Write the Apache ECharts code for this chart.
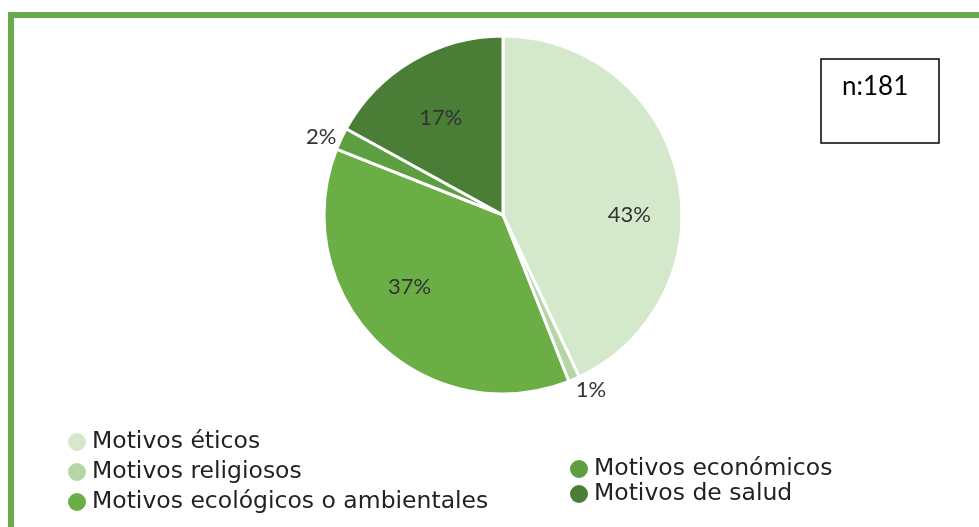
<!DOCTYPE html>
<html>
<head>
<meta charset="utf-8">
<script src="https://cdn.jsdelivr.net/npm/echarts@6/dist/echarts.min.js"></script>
<style>
  html, body { margin: 0; padding: 0; background: #ffffff; }
  #chart { width: 979px; height: 527px; }
</style>
</head>
<body>
<div id="chart"></div>
<script>
// Motivos declarados (n = 181), porcentajes
const categories = [
  'Motivos éticos',
  'Motivos religiosos',
  'Motivos ecológicos o ambientales',
  'Motivos económicos',
  'Motivos de salud'
];
const percentages = [43, 1, 37, 2, 17];
const sampleLabel = 'n:181';

const sliceColors = ['#d4e8cc', '#b3d6a4', '#6aae45', '#5d9e41', '#4a7e36'];
const labelShift = [[36, 20], [0, 7], [-28, 6], [-1, 0], [-15, -17]];
const smallSlice = v => v < 5;
const legendFont = '"DejaVu Sans", "Liberation Sans", Arial, sans-serif';
const labelFont = 'Lato, "Open Sans", sans-serif';

const chart = echarts.init(document.getElementById('chart'), null, { renderer: 'canvas' });

const pieData = categories.map((name, i) => ({
  name: name,
  value: percentages[i],
  itemStyle: { color: sliceColors[i] },
  label: smallSlice(percentages[i])
    ? { position: 'outside', distanceToLabelLine: 0 }
    : { position: 'inside' }
}));

const legendText = { fontFamily: legendFont, fontSize: 23.5, color: '#222222', padding: [0, 0, 0, 0] };

chart.setOption({
  backgroundColor: '#ffffff',
  animation: false,
  graphic: [
    {
      type: 'rect',
      shape: { x: 11, y: 15, width: 990, height: 540 },
      style: { fill: 'none', stroke: '#6aaa4f', lineWidth: 6 },
      silent: true
    },
    {
      type: 'rect',
      shape: { x: 821, y: 59, width: 118, height: 84 },
      style: { fill: '#ffffff', stroke: '#000000', lineWidth: 1.5 },
      silent: true
    },
    {
      type: 'text',
      left: 842, top: 74,
      style: { text: sampleLabel, fontFamily: labelFont, fontSize: 26, fill: '#000000' }
    }
  ],
  legend: [
    {
      data: categories.slice(0, 3),
      orient: 'vertical',
      left: 61, top: 425,
      icon: 'circle',
      itemWidth: 20, itemHeight: 20, itemGap: 6,
      selectedMode: false,
      textStyle: legendText
    },
    {
      data: categories.slice(3),
      orient: 'vertical',
      left: 563, top: 452,
      icon: 'circle',
      itemWidth: 20, itemHeight: 20, itemGap: 1,
      selectedMode: false,
      textStyle: legendText
    }
  ],
  series: [
    {
      type: 'pie',
      center: [503, 215],
      radius: [0, 179],
      startAngle: 90,
      clockwise: true,
      avoidLabelOverlap: false,
      itemStyle: { borderColor: '#ffffff', borderWidth: 3 },
      label: {
        formatter: '{c}%',
        fontFamily: labelFont,
        fontSize: 22,
        color: '#333333'
      },
      labelLine: { show: false, length: 4, length2: 0 },
      labelLayout: function (p) {
        const s = labelShift[p.dataIndex];
        return { dx: s[0], dy: s[1] };
      },
      emphasis: { disabled: true },
      data: pieData
    }
  ]
});
</script>
</body>
</html>
